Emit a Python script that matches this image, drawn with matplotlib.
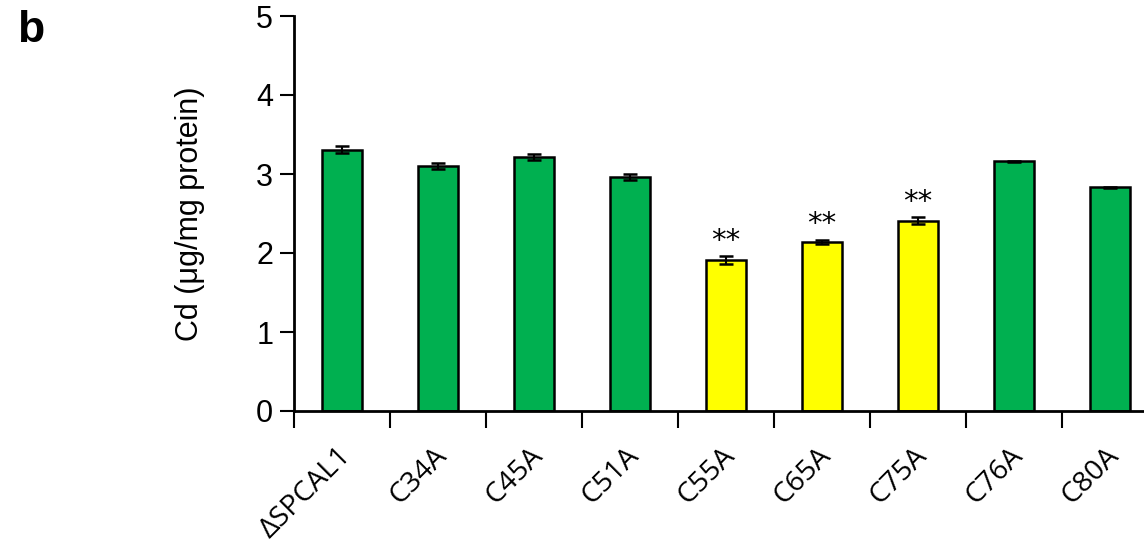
import numpy as np
import matplotlib.pyplot as plt
from matplotlib.transforms import ScaledTranslation

plt.rcParams['font.family'] = ['Liberation Sans', 'DejaVu Sans']

mutants = ['ΔSPCAL1', 'C34A', 'C45A', 'C51A', 'C55A', 'C65A', 'C75A', 'C76A', 'C80A']
cd_mean = [3.31, 3.10, 3.22, 2.96, 1.91, 2.14, 2.41, 3.16, 2.83]
cd_err = [0.045, 0.036, 0.038, 0.038, 0.05, 0.027, 0.04, 0.01, 0.01]
signif = ['', '', '', '', '**', '**', '**', '', '']

green = '#00B050'
yellow = '#FFFF00'
colors = [yellow if s else green for s in signif]

fig = plt.figure(figsize=(11.44, 5.43), dpi=100)
ax = fig.add_axes([294/1144, 1 - 411/543, 1 - 294/1144, (411 - 16)/543])

x = np.arange(len(mutants)) + 0.5
ax.bar(x, cd_mean, width=0.41, color=colors, edgecolor='black', linewidth=1.8, zorder=2)
ax.errorbar(x, cd_mean, yerr=cd_err, fmt='none', ecolor='black',
            elinewidth=1.5, capsize=5, capthick=1.8, zorder=3)

for xi, m, e, s in zip(x, cd_mean, cd_err, signif):
    if s:
        ax.annotate(s, (xi, m + e), xytext=(0, 1), textcoords='offset points',
                    ha='center', va='bottom', fontsize=21, fontfamily='DejaVu Sans')

ax.set_xlim(0, (1144 - 294)/96)
ax.set_ylim(0, 5)
ax.set_yticks(range(6))
ax.tick_params(axis='y', labelsize=22, length=10, width=1.5, direction='out', pad=5)

# boundary ticks between bars, labels centred under each bar
ax.set_xticks(np.arange(len(mutants)))
ax.set_xticklabels([])
ax.tick_params(axis='x', which='major', length=12, width=1.5, direction='out')
ax.set_xticks(x, minor=True)
ax.set_xticklabels(mutants, minor=True, rotation=45, ha='right',
                   rotation_mode='anchor', fontsize=20.5, fontfamily=['Open Sans', 'DejaVu Sans'])
ax.tick_params(axis='x', which='minor', length=0, pad=22)
shift = ScaledTranslation(-5/100, 0, fig.dpi_scale_trans)
for lab in ax.get_xticklabels(minor=True):
    lab.set_transform(lab.get_transform() + shift)

ax.spines['top'].set_visible(False)
ax.spines['right'].set_visible(False)
ax.spines['left'].set_linewidth(2)
ax.spines['bottom'].set_linewidth(2)

ax.set_ylabel('Cd (μg/mg protein)', fontsize=22, labelpad=37)

fig.text(17/1144, 1 - 30/543, 'b', fontsize=32, fontweight='bold', va='center')

fig.savefig('out.png', dpi=100)
